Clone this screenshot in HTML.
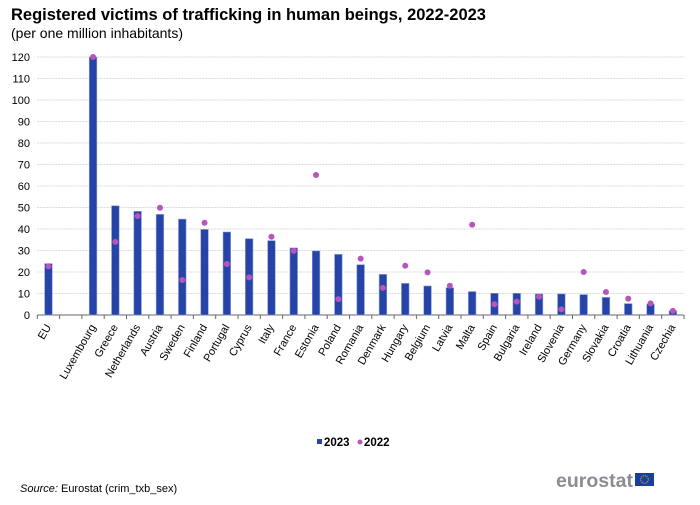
<!DOCTYPE html>
<html><head><meta charset="utf-8"><style>
body{margin:0;background:#fff;font-family:"Liberation Sans",Arial,sans-serif;}
#wrap{position:relative;width:700px;height:505px;overflow:hidden;}
</style></head><body>
<div id="wrap">
<svg id="chart" width="700" height="505" xmlns="http://www.w3.org/2000/svg">
<text x="11" y="20" font-size="16.5" font-weight="bold" fill="#000">Registered victims of trafficking in human beings, 2022-2023</text>
<text x="11" y="38" font-size="14" fill="#000">(per one million inhabitants)</text>
<g id="grid"></g><g id="bars"></g><g id="dots"></g><g id="xlabels"></g>
<g>
<rect x="317" y="439" width="5" height="5" fill="#2644a7"/>
<text x="324" y="446" font-size="11.5" font-weight="bold">2023</text>
<circle cx="360" cy="442" r="2.5" fill="#b656bd"/>
<text x="364" y="446" font-size="11.5" font-weight="bold">2022</text>
</g>
<text x="20" y="492" font-size="11"><tspan font-style="italic">Source:</tspan> Eurostat (crim_txb_sex)</text>
<text x="556" y="487" font-size="19" font-weight="bold" fill="#8a8d93" textLength="77" lengthAdjust="spacingAndGlyphs">eurostat</text>
<rect x="635" y="473" width="19" height="13" fill="#1a3e9c"/>
<circle cx="644.5" cy="479.5" r="3.8" fill="none" stroke="#f5d000" stroke-width="0.9" stroke-dasharray="1 1"/>
</svg>
</div>
<script>
const categories=["EU","","Luxembourg","Greece","Netherlands","Austria","Sweden","Finland","Portugal","Cyprus","Italy","France","Estonia","Poland","Romania","Denmark","Hungary","Belgium","Latvia","Malta","Spain","Bulgaria","Ireland","Slovenia","Germany","Slovakia","Croatia","Lithuania","Czechia"];
const values2023=[23.9,null,120,50.8,48.2,46.8,44.6,39.8,38.6,35.5,34.6,31.2,29.8,28.2,23.4,18.9,14.7,13.5,12.7,10.9,10.1,10.1,9.8,9.8,9.5,8.2,5.3,5.1,2.0];
const values2022=[22.6,null,120,34.0,46.0,49.9,16.3,42.9,23.7,17.5,36.4,29.8,65.1,7.4,26.2,12.6,22.9,19.8,13.6,42.0,5.0,6.2,8.5,2.6,20.0,10.7,7.6,5.4,1.9];
const yTicks=[0,10,20,30,40,50,60,70,80,90,100,110,120];

const NS="http://www.w3.org/2000/svg";
const x0=37.3,x1=684,y0=315,yMax=120,yTop=57;
const step=(x1-x0)/categories.length;
const xc=i=>x0+step*(i+0.5);
const ys=v=>y0-(v/yMax)*(y0-yTop);
function mk(tag,attrs,parent){const e=document.createElementNS(NS,tag);for(const k in attrs)e.setAttribute(k,attrs[k]);parent.appendChild(e);return e;}
const grid=document.getElementById('grid'),bars=document.getElementById('bars'),dots=document.getElementById('dots'),xl=document.getElementById('xlabels');
yTicks.forEach(t=>{
  if(t>0){const l=mk('line',{x1:x0,x2:x1,y1:ys(t),y2:ys(t),stroke:'#d9d9d9','stroke-width':1,'stroke-dasharray':'2 1'},grid);
  
  }
  const tx=mk('text',{x:30,y:ys(t)+4,'font-size':11,'text-anchor':'end',fill:'#000'},grid);
  tx.textContent=t;
  
  
});
const ax=mk('line',{x1:x0,x2:x1,y1:y0,y2:y0,stroke:'#666','stroke-width':1},grid);


for(let i=0;i<=categories.length;i++){
  const tk=mk('line',{x1:x0+step*i,x2:x0+step*i,y1:y0,y2:y0+4,stroke:'#666','stroke-width':1},grid);
  
  
}
categories.forEach((c,i)=>{
  const v=values2023[i];
  if(v!=null){
    const r=mk('rect',{x:xc(i)-3.8,y:ys(v),width:7.6,height:y0-ys(v),fill:'#2644a7',stroke:'#8e9fd6','stroke-width':0.6},bars);
    
    
  }
  const d=values2022[i];
  if(d!=null){
    const p=mk('circle',{cx:xc(i),cy:ys(d),r:3,fill:'#b656bd'},dots);
    
    
  }
  if(c){
    const t=mk('text',{x:xc(i)+3,y:y0+12,'font-size':11,'text-anchor':'end',fill:'#000',transform:`rotate(-60 ${xc(i)+3} ${y0+12})`},xl);
    t.textContent=c;
    
    
  }
});
</script>
</body></html>
